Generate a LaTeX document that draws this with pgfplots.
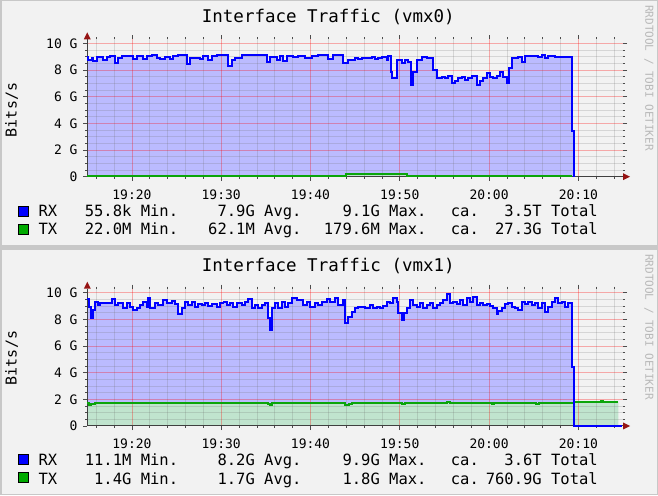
\documentclass[border=0pt]{standalone}
\usepackage{fontspec}
\usepackage{pgfplots}
\usepackage{pgfplotstable}
\pgfplotsset{compat=1.18}
\newfontfamily\rrd{DejaVu Sans Mono}

\definecolor{panel}{RGB}{242,242,242}
\definecolor{frame}{RGB}{200,200,200}
\definecolor{rxline}{RGB}{0,0,255}
\definecolor{rxfill}{RGB}{187,187,255}
\definecolor{txline}{RGB}{10,165,10}
\definecolor{txfill}{RGB}{192,228,206}
\definecolor{txbox}{RGB}{0,170,0}
\definecolor{mingridc}{RGB}{110,110,110}
\definecolor{majgridc}{RGB}{255,0,0}
\definecolor{arrowred}{RGB}{150,20,20}
\definecolor{wmark}{RGB}{185,185,185}

% minutes after 19:15, value in Gbit/s
\pgfplotstableread[row sep=\\]{t v\\
0 9.0\\ 0.12 8.76\\ 0.49 8.88\\ 0.68 8.7\\ 1.05 9.0\\ 1.80 8.76\\ 2.17 9.0\\ 2.54 9.06\\
3.10 8.56\\ 3.48 8.93\\ 3.85 9.06\\ 5.16 8.8\\ 5.53 9.06\\ 6.28 8.8\\ 6.65 9.06\\ 7.21 9.13\\
7.77 8.93\\ 8.14 8.83\\ 8.70 9.0\\ 9.26 8.83\\ 9.64 9.06\\ 10.19 9.13\\ 11.13 8.43\\ 11.50 8.88\\
12.06 8.93\\ 12.62 8.83\\ 12.99 9.08\\ 13.56 8.76\\ 13.93 9.06\\ 14.49 9.13\\ 15.79 8.33\\ 16.17 8.76\\
16.54 8.93\\ 17.29 9.13\\ 20.09 8.58\\ 20.46 9.0\\ 21.21 8.76\\ 21.58 9.06\\ 21.95 8.68\\ 22.33 9.08\\
23.07 9.0\\ 23.63 9.08\\ 24.38 8.93\\ 25.13 9.08\\ 25.87 9.13\\ 26.99 8.83\\ 27.55 9.13\\ 28.67 8.5\\
29.23 8.76\\ 29.98 8.93\\ 30.35 8.83\\ 30.73 8.93\\ 31.29 8.88\\ 31.85 9.0\\ 32.22 8.83\\ 32.59 8.93\\
32.97 9.0\\ 33.53 8.76\\ 33.71 9.08\\ 33.97 7.88\\ 34.16 7.38\\ 34.65 8.76\\ 35.21 8.5\\ 35.58 8.76\\
35.95 8.63\\ 36.25 6.88\\ 36.51 7.88\\ 36.89 8.76\\ 37.45 9.0\\ 38.01 8.88\\ 38.75 8.0\\ 39.13 7.43\\
39.69 7.5\\ 40.06 7.38\\ 40.43 7.56\\ 40.81 7.0\\ 41.18 7.18\\ 41.55 7.38\\ 41.93 7.5\\ 42.30 7.26\\
42.67 7.38\\ 43.05 7.58\\ 43.61 6.88\\ 43.98 7.18\\ 44.35 7.38\\ 44.73 7.76\\ 45.10 7.5\\ 45.47 7.38\\
45.85 7.58\\ 46.22 7.88\\ 46.59 7.5\\ 46.97 7.0\\ 47.23 8.13\\ 47.53 8.88\\ 48.27 9.0\\ 48.65 8.63\\
49.02 9.08\\ 50.51 9.0\\ 50.88 9.13\\ 51.26 8.93\\ 51.63 9.06\\ 52.38 9.0\\ 54.32 3.43\\ 54.51 0\\
}\toprx

\pgfplotstableread[row sep=\\]{t v\\
0 0.05\\ 29.0 0.18\\ 35.8 0.05\\ 54.32 0.05\\
}\toptx

\pgfplotstableread[row sep=\\]{t v\\
0 9.5\\ 0.19 8.95\\ 0.41 8.08\\ 0.68 8.7\\ 0.86 9.33\\ 1.16 9.08\\ 1.42 9.2\\ 2.36 9.25\\
2.73 9.5\\ 3.10 9.08\\ 3.48 9.2\\ 4.03 8.83\\ 4.41 9.2\\ 4.78 8.95\\ 5.16 8.7\\ 5.53 8.83\\
5.90 9.08\\ 6.28 9.33\\ 6.65 8.95\\ 6.84 9.58\\ 7.02 8.83\\ 7.58 9.2\\ 7.96 9.08\\ 8.52 9.45\\
8.89 9.2\\ 9.45 9.4\\ 9.82 9.15\\ 10.19 8.4\\ 10.57 8.83\\ 10.94 9.33\\ 11.31 9.08\\ 11.69 9.33\\
12.06 8.95\\ 12.43 9.15\\ 12.81 9.08\\ 13.18 9.25\\ 13.55 9.0\\ 13.93 9.15\\ 14.49 8.95\\ 14.86 9.2\\
15.25 9.33\\ 15.61 9.08\\ 15.98 9.25\\ 16.35 8.95\\ 16.73 9.2\\ 17.29 9.08\\ 17.66 9.33\\ 18.03 9.5\\
18.41 8.83\\ 18.78 9.08\\ 19.15 8.83\\ 19.53 9.08\\ 19.90 9.2\\ 20.20 8.08\\ 20.46 7.2\\ 20.65 8.83\\
21.02 9.2\\ 21.39 8.83\\ 21.77 9.33\\ 22.14 8.95\\ 22.51 9.2\\ 22.89 9.58\\ 23.45 9.45\\ 24.19 9.08\\
24.57 9.33\\ 24.94 8.95\\ 25.50 9.25\\ 25.87 9.08\\ 26.25 9.33\\ 26.81 9.5\\ 27.18 9.33\\ 27.74 9.58\\
28.11 9.08\\ 28.67 9.45\\ 28.86 7.7\\ 29.23 8.2\\ 29.61 8.58\\ 29.98 8.83\\ 30.35 8.95\\ 31.10 8.83\\
31.66 9.08\\ 32.03 8.83\\ 32.41 8.95\\ 32.78 8.83\\ 33.15 9.0\\ 33.53 9.33\\ 33.90 9.2\\ 34.27 9.58\\
34.65 9.33\\ 34.83 8.45\\ 35.21 7.95\\ 35.50 8.45\\ 35.77 8.83\\ 36.14 9.45\\ 36.51 9.08\\ 36.89 8.95\\
37.26 9.2\\ 37.63 8.83\\ 38.01 9.08\\ 38.38 9.2\\ 38.75 8.83\\ 39.13 9.08\\ 39.50 9.2\\ 39.87 9.45\\
40.25 9.9\\ 40.62 9.2\\ 40.99 9.33\\ 41.37 9.15\\ 41.74 9.45\\ 42.11 9.08\\ 42.49 9.58\\ 42.86 9.33\\
43.23 9.7\\ 43.61 9.08\\ 43.98 9.25\\ 44.35 9.08\\ 44.73 9.15\\ 45.10 9.0\\ 45.47 8.83\\ 45.85 8.4\\
46.03 8.65\\ 46.41 8.83\\ 46.78 9.15\\ 47.15 9.25\\ 47.53 8.95\\ 47.90 8.83\\ 48.27 8.7\\ 48.65 9.33\\
49.02 9.15\\ 49.39 9.33\\ 49.77 9.08\\ 50.14 9.25\\ 50.51 8.83\\ 50.88 9.2\\ 51.26 8.58\\ 51.63 8.95\\
52.00 9.33\\ 52.38 9.58\\ 52.75 9.2\\ 53.12 9.33\\ 53.50 8.95\\ 53.80 9.2\\ 54.32 4.45\\ 54.51 0\\
59.85 0\\
}\botrx

\pgfplotstableread[row sep=\\]{t v\\
0 1.72\\ 0.19 1.6\\ 0.45 1.62\\ 0.86 1.72\\ 2.0 1.7\\ 3.3 1.75\\ 3.5 1.7\\ 6.4 1.72\\
7.9 1.7\\ 9.5 1.74\\ 9.8 1.7\\ 13.0 1.74\\ 13.3 1.7\\ 16.2 1.72\\ 16.4 1.7\\ 19.5 1.74\\
20.2 1.62\\ 20.5 1.55\\ 20.7 1.7\\ 22.5 1.74\\ 22.8 1.7\\ 24.3 1.74\\ 24.6 1.7\\ 28.6 1.76\\
28.9 1.58\\ 29.3 1.62\\ 29.6 1.7\\ 35.2 1.63\\ 35.6 1.7\\ 40.3 1.8\\ 40.6 1.72\\ 43.9 1.7\\
45.3 1.65\\ 45.6 1.7\\ 50.3 1.68\\ 50.6 1.7\\ 54.51 1.83\\ 57.5 1.86\\ 57.8 1.83\\ 59.47 1.83\\
}\bottx

\tikzset{
  mgrid/.style={draw=mingridc, draw opacity=0.22, line width=0.8pt},
  Mgrid/.style={draw=majgridc, draw opacity=0.3, line width=0.8pt},
}

\pgfplotsset{
  rrd/.style={
    scale only axis, width=535.7pt, height=137.3pt,
    xmin=0, xmax=60, ymin=0, ymax=10.3,
    axis line style={draw=none},
    clip=false,
    xtick={5,15,...,55},
    xticklabels={19:20,19:30,19:40,19:50,20:00,20:10},
    minor xtick={1,3,...,59},
    ytick={0,2,...,10},
    yticklabels={0,2 G,4 G,6 G,8 G,10 G},
    minor ytick={0.5,1,...,10},
    tick align=outside,
    major tick length=4pt, minor tick length=2pt,
    tick style={black!70, line width=0.8pt},
    ticklabel style={font=\fontsize{13}{15}\rrd, inner sep=0pt},
    xticklabel style={anchor=north, yshift=-9pt},
    yticklabel style={anchor=east, xshift=-5.6pt},
  },
  area/.style={const plot, draw=none, fill=#1, forget plot},
  trace/.style={const plot, draw=#1, line width=1.9pt, no marks, forget plot},
}

\newcommand\rrdgrid{%
  \pgfplotsinvokeforeach{1,3,7,9,11,13,17,19,21,23,27,29,31,33,37,39,41,43,47,49,51,53,57,59}{%
    \draw[mgrid] (axis cs:##1,0) -- (axis cs:##1,10.3);}
  \pgfplotsinvokeforeach{0.5,1,1.5,2.5,3,3.5,4.5,5,5.5,6.5,7,7.5,8.5,9,9.5}{%
    \draw[mgrid] (axis cs:0,##1) -- (axis cs:60,##1);}
  \pgfplotsinvokeforeach{5,15,25,35,45,55}{%
    \draw[Mgrid] (axis cs:##1,0) -- (axis cs:##1,10.3);}
  \pgfplotsinvokeforeach{2,4,6,8,10}{%
    \draw[Mgrid] (axis cs:0,##1) -- (axis cs:60,##1);}
  \draw[black!75, line width=1pt] (axis cs:0,0) -- (axis cs:60,0);
  \draw[black!75, line width=1pt] (axis cs:0,0) -- (axis cs:0,10.3);
}
\newcommand\rrdarrows{%
  \fill[arrowred] (axis cs:60,0) ++(0,3.5pt) -- ++(7pt,-3.5pt) -- ++(-7pt,-3.5pt) -- cycle;
  \fill[arrowred] (axis cs:0,10.3) ++(-3.5pt,0) -- ++(3.5pt,7pt) -- ++(3.5pt,-7pt) -- cycle;
}

\begin{document}
\begin{tikzpicture}[x=1pt, y=1pt,
  lg/.style={font=\fontsize{15.5}{17}\rrd, inner sep=0pt},
  ttl/.style={font=\fontsize{17.5}{20}\rrd, inner sep=0pt, anchor=base},
]
\useasboundingbox (0,0) rectangle (658,495);
\fill[frame] (0,0) rectangle (658,495);
\fill[panel] (1.5,249.5) rectangle (656.5,493.5);
\fill[panel] (1.5,1.5) rectangle (656.5,245);

% ---- vmx0 ----
\begin{axis}[rrd, at={(87.3pt,318.3pt)}, anchor=south west]
  \addplot[area=rxfill] table[x=t, y=v] {\toprx} \closedcycle;
  \addplot[area=txfill] table[x=t, y=v] {\toptx} \closedcycle;
  \rrdgrid
  \addplot[trace=txline] table[x=t, y=v] {\toptx};
  \addplot[trace=rxline] table[x=t, y=v] {\toprx};
  \rrdarrows
\end{axis}
\node[ttl] at (328.3,472.3) {Interface Traffic (vmx0)};
\node[font=\fontsize{15}{17}\rrd, inner sep=0pt, rotate=90] at (11.7,385) {Bits/s};
\node[font=\fontsize{11}{13}\rrd, inner sep=0pt, rotate=-90, text=wmark] at (649,417) {RRDTOOL / TOBI OETIKER};

\filldraw[fill=rxline, draw=black, line width=0.8pt] (18.8,278.8) rectangle (28.8,288.8);
\filldraw[fill=txbox, draw=black, line width=0.8pt] (18.8,260.5) rectangle (28.8,270.5);
\node[lg, anchor=base west] at (38.3,278.3) {RX};
\node[lg, anchor=base east] at (178.3,278.3) {55.8k Min.};
\node[lg, anchor=base east] at (301.7,278.3) {7.9G Avg.};
\node[lg, anchor=base east] at (426.7,278.3) {9.1G Max.};
\node[lg, anchor=base west] at (450.7,278.3) {ca.};
\node[lg, anchor=base east] at (598,278.3) {3.5T Total};
\node[lg, anchor=base west] at (38.3,260) {TX};
\node[lg, anchor=base east] at (178.3,260) {22.0M Min.};
\node[lg, anchor=base east] at (301.7,260) {62.1M Avg.};
\node[lg, anchor=base east] at (426.7,260) {179.6M Max.};
\node[lg, anchor=base west] at (450.7,260) {ca.};
\node[lg, anchor=base east] at (598,260) {27.3G Total};

% ---- vmx1 ----
\begin{axis}[rrd, at={(87.3pt,69pt)}, anchor=south west]
  \addplot[area=rxfill] table[x=t, y=v] {\botrx} \closedcycle;
  \addplot[area=txfill] table[x=t, y=v] {\bottx} \closedcycle;
  \rrdgrid
  \addplot[trace=txline] table[x=t, y=v] {\bottx};
  \addplot[trace=rxline] table[x=t, y=v] {\botrx};
  \rrdarrows
\end{axis}
\node[ttl] at (328.3,223.3) {Interface Traffic (vmx1)};
\node[font=\fontsize{15}{17}\rrd, inner sep=0pt, rotate=90] at (11.7,137) {Bits/s};
\node[font=\fontsize{11}{13}\rrd, inner sep=0pt, rotate=-90, text=wmark] at (649,168) {RRDTOOL / TOBI OETIKER};

\filldraw[fill=rxline, draw=black, line width=0.8pt] (18.8,30.5) rectangle (28.8,40.5);
\filldraw[fill=txbox, draw=black, line width=0.8pt] (18.8,12.2) rectangle (28.8,22.2);
\node[lg, anchor=base west] at (38.3,29.3) {RX};
\node[lg, anchor=base east] at (178.3,29.3) {11.1M Min.};
\node[lg, anchor=base east] at (301.7,29.3) {8.2G Avg.};
\node[lg, anchor=base east] at (426.7,29.3) {9.9G Max.};
\node[lg, anchor=base west] at (450.7,29.3) {ca.};
\node[lg, anchor=base east] at (598,29.3) {3.6T Total};
\node[lg, anchor=base west] at (38.3,11) {TX};
\node[lg, anchor=base east] at (178.3,11) {1.4G Min.};
\node[lg, anchor=base east] at (301.7,11) {1.7G Avg.};
\node[lg, anchor=base east] at (426.7,11) {1.8G Max.};
\node[lg, anchor=base west] at (450.7,11) {ca.};
\node[lg, anchor=base east] at (598,11) {760.9G Total};
\end{tikzpicture}
\end{document}
